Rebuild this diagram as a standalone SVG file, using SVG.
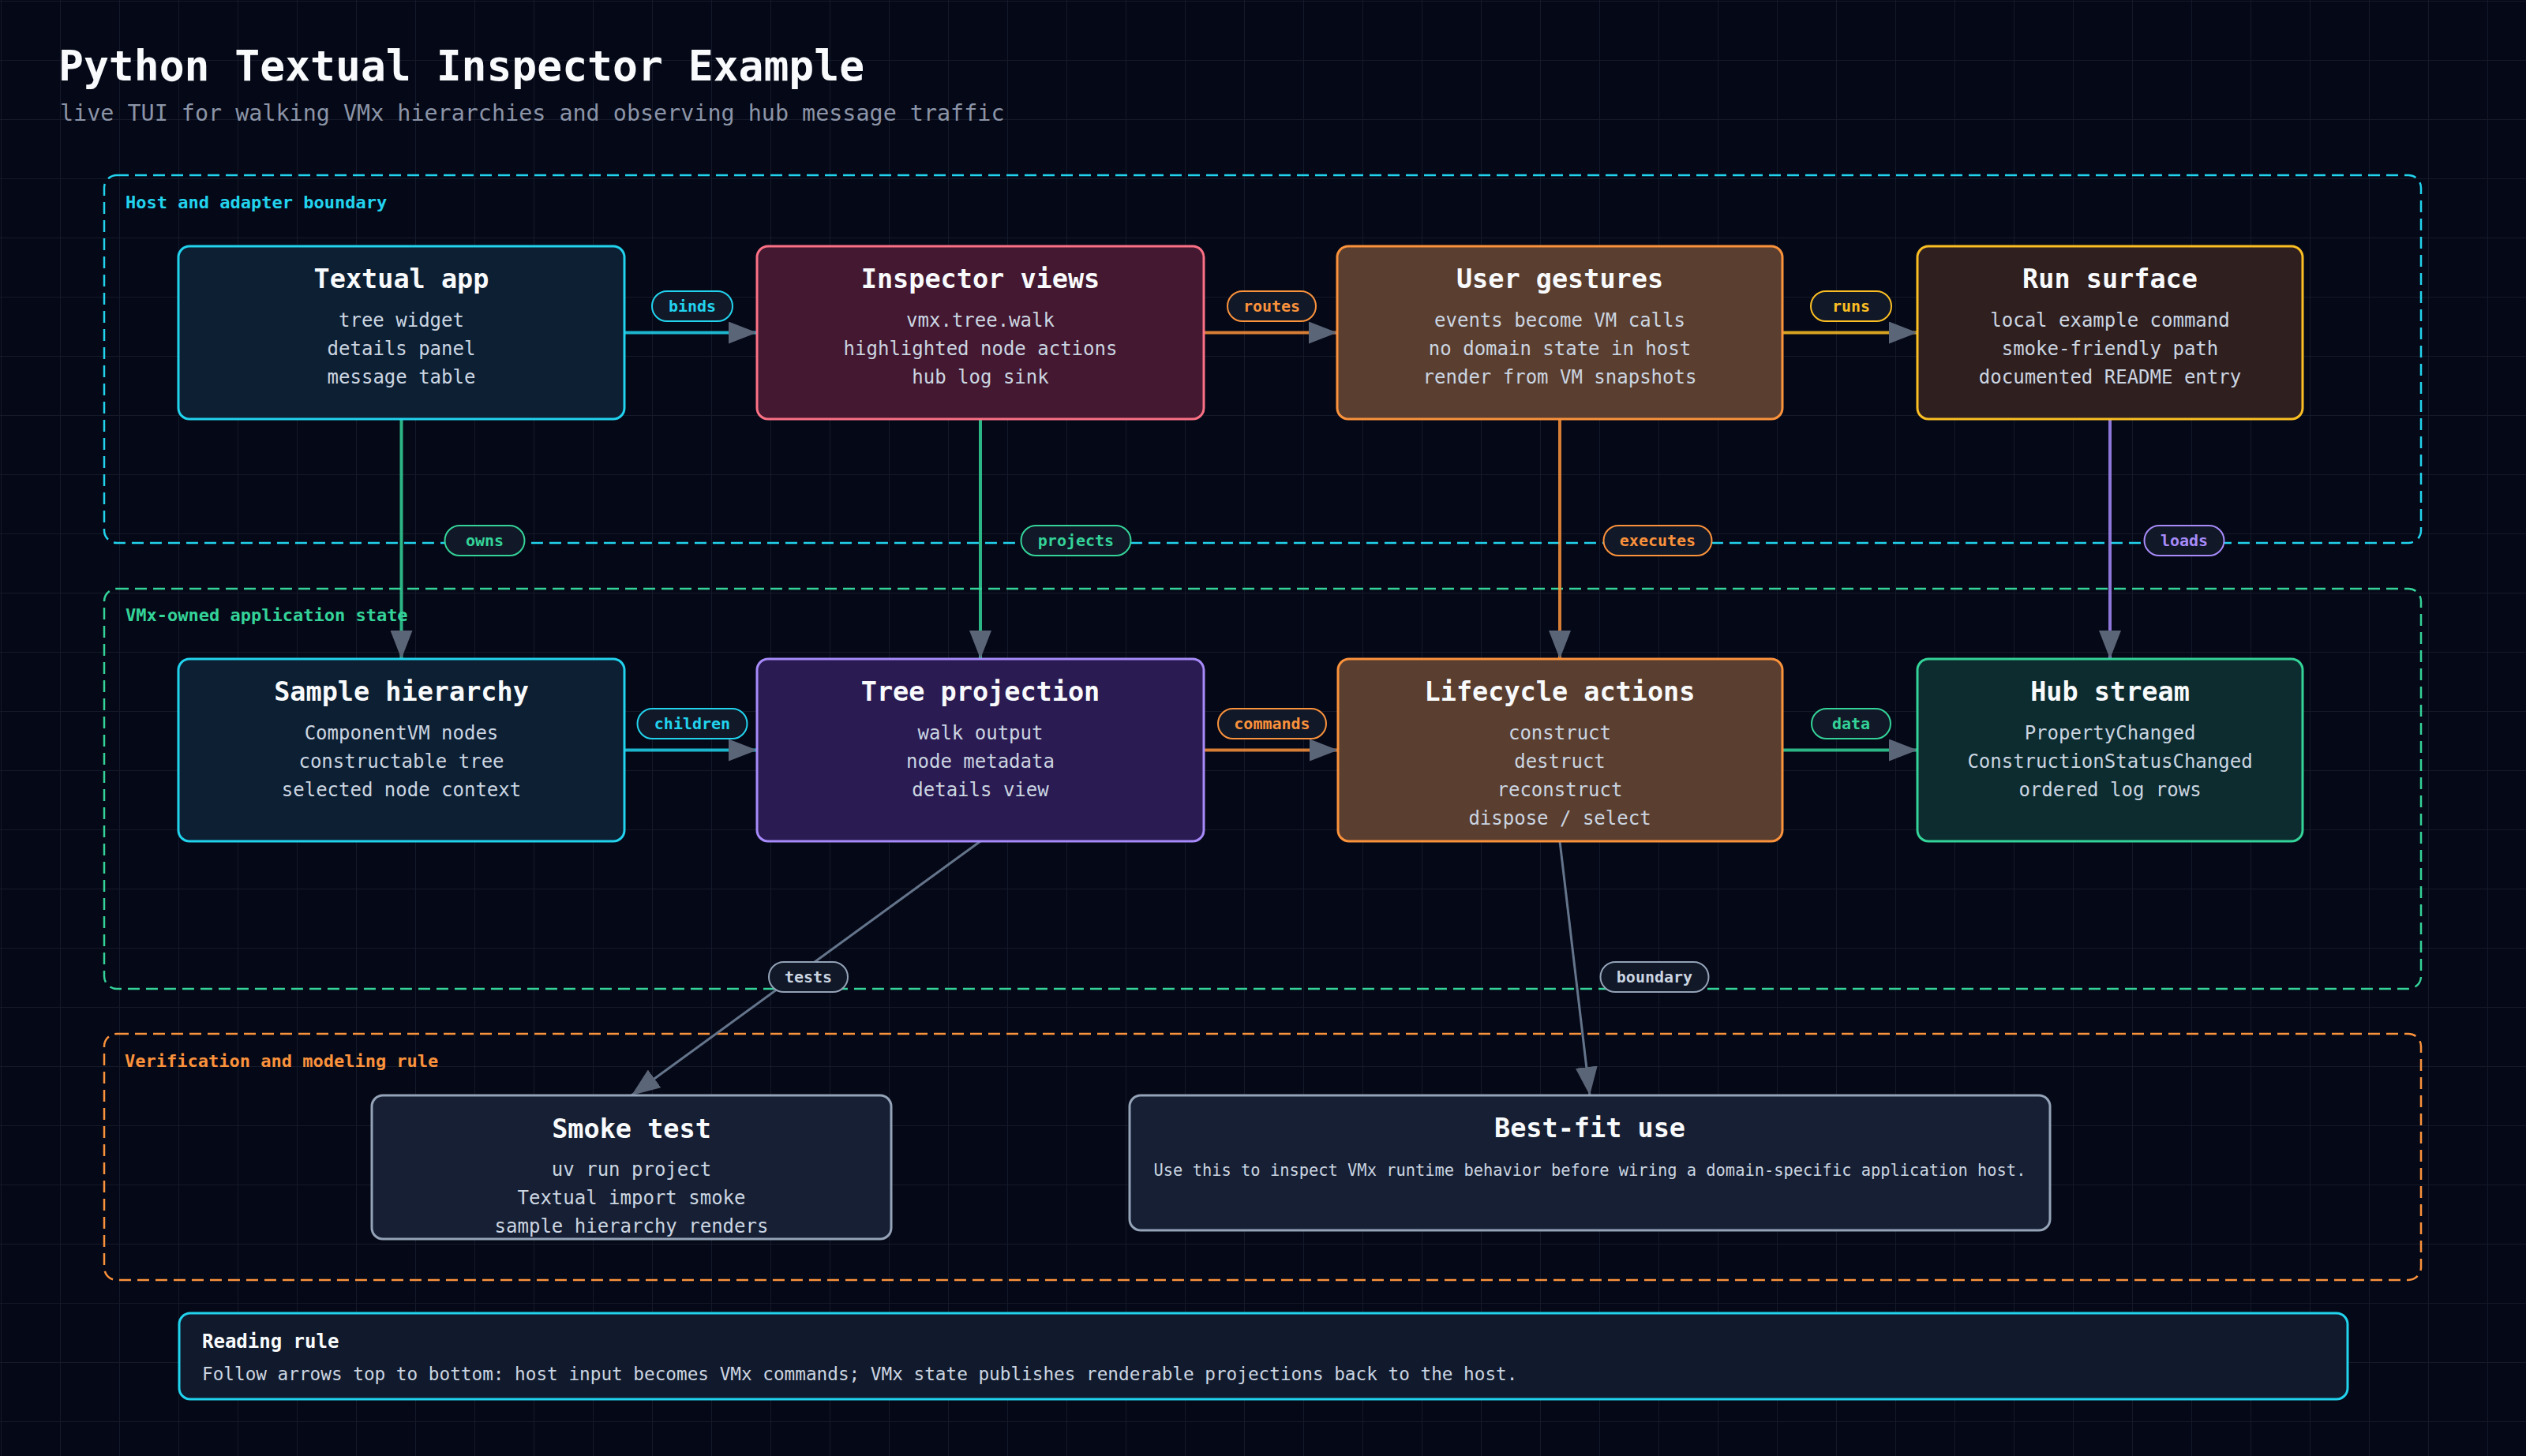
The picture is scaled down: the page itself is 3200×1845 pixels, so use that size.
<svg xmlns="http://www.w3.org/2000/svg" width="3200" height="1845" viewBox="0 0 3200 1845">
<defs>
<pattern id="grid" x="1" y="1" width="75" height="75" patternUnits="userSpaceOnUse"><path d="M75 0 L0 0 0 75" fill="none" stroke="#141a2a" stroke-width="2"/></pattern>
<marker id="arr" markerUnits="userSpaceOnUse" markerWidth="36" markerHeight="28" refX="36" refY="14" orient="auto"><path d="M0,0 L36,14 L0,28 Z" fill="#5b6578"/></marker>
<style>
text{font-family:"DejaVu Sans Mono","Liberation Mono",monospace}
.grp{fill:none;stroke-width:2.5;stroke-dasharray:15 8}
.glabel{font-weight:bold;font-size:22px}
.nd{stroke-width:3}
.title{font-weight:bold;font-size:33.5px;fill:#f8fafc;text-anchor:middle}
.body{font-size:24px;fill:#cbd5e1;text-anchor:middle}
.edge{fill:none;stroke-width:4;stroke-opacity:0.85;marker-end:url(#arr)}
.diag{fill:none;stroke-width:3;stroke:#64748b;marker-end:url(#arr)}
.pill{fill:#111827;stroke-width:2}
.pt{font-weight:bold;font-size:20px;text-anchor:middle}
</style>
</defs>
<rect width="3200" height="1845" fill="#050816"/>
<rect width="3200" height="1845" fill="url(#grid)"/>

<text x="74" y="102" font-weight="bold" font-size="53" fill="#f8fafc">Python Textual Inspector Example</text>
<text x="76" y="153" font-size="28.4" fill="#8b94a7">live TUI for walking VMx hierarchies and observing hub message traffic</text>

<g id="group-host">
<rect class="grp" x="132" y="222" width="2935" height="466" rx="16" stroke="#22d3ee"/>
<text class="glabel" x="159" y="264" fill="#22d3ee">Host and adapter boundary</text>
</g>
<g id="group-vmx">
<rect class="grp" x="132" y="746" width="2935" height="507" rx="16" stroke="#34d399"/>
<text class="glabel" x="159" y="787" fill="#34d399">VMx-owned application state</text>
</g>
<g id="group-verify">
<rect class="grp" x="132" y="1310" width="2935" height="312" rx="16" stroke="#fb923c"/>
<text class="glabel" x="158" y="1352" fill="#fb923c">Verification and modeling rule</text>
</g>

<g id="connectors">
<path class="edge" d="M791 421.5 H959" stroke="#22d3ee"/>
<path class="edge" d="M1525 421.5 H1694" stroke="#fb923c"/>
<path class="edge" d="M2258 421.5 H2429" stroke="#fbbf24"/>
<path class="edge" d="M508.5 531 V835" stroke="#34d399"/>
<path class="edge" d="M1242 531 V835" stroke="#34d399"/>
<path class="edge" d="M1976 531 V835" stroke="#fb923c"/>
<path class="edge" d="M2673 531 V835" stroke="#a78bfa"/>
<path class="edge" d="M791 950.5 H959" stroke="#22d3ee"/>
<path class="edge" d="M1525 950.5 H1695" stroke="#fb923c"/>
<path class="edge" d="M2258 950.5 H2429" stroke="#34d399"/>
<path class="diag" d="M1242 1066 L800 1388"/>
<path class="diag" d="M1976 1066 L2014 1388"/>

<rect class="pill" x="826" y="369" width="102" height="38" rx="19" stroke="#22d3ee"/>
<text class="pt" x="877" y="395" fill="#22d3ee">binds</text>
<rect class="pill" x="1555" y="369" width="112" height="38" rx="19" stroke="#fb923c"/>
<text class="pt" x="1611" y="395" fill="#fb923c">routes</text>
<rect class="pill" x="2294" y="369" width="102" height="38" rx="19" stroke="#fbbf24"/>
<text class="pt" x="2345" y="395" fill="#fbbf24">runs</text>

<rect class="pill" x="563.5" y="666" width="101" height="38" rx="19" stroke="#34d399"/>
<text class="pt" x="614" y="692" fill="#34d399">owns</text>
<rect class="pill" x="1293.5" y="666" width="139" height="38" rx="19" stroke="#34d399"/>
<text class="pt" x="1363" y="692" fill="#34d399">projects</text>
<rect class="pill" x="2031.5" y="666" width="137" height="38" rx="19" stroke="#fb923c"/>
<text class="pt" x="2100" y="692" fill="#fb923c">executes</text>
<rect class="pill" x="2716.5" y="666" width="101" height="38" rx="19" stroke="#a78bfa"/>
<text class="pt" x="2767" y="692" fill="#a78bfa">loads</text>

<rect class="pill" x="807.5" y="898" width="139" height="38" rx="19" stroke="#22d3ee"/>
<text class="pt" x="877" y="924" fill="#22d3ee">children</text>
<rect class="pill" x="1543" y="898" width="137" height="38" rx="19" stroke="#fb923c"/>
<text class="pt" x="1611.5" y="924" fill="#fb923c">commands</text>
<rect class="pill" x="2295" y="898" width="100" height="38" rx="19" stroke="#34d399"/>
<text class="pt" x="2345" y="924" fill="#34d399">data</text>

<rect class="pill" x="974" y="1219" width="100" height="38" rx="19" stroke="#94a3b8"/>
<text class="pt" x="1024" y="1245" fill="#cbd5e1">tests</text>
<rect class="pill" x="2027.5" y="1219" width="137" height="38" rx="19" stroke="#94a3b8"/>
<text class="pt" x="2096" y="1245" fill="#cbd5e1">boundary</text>
</g>

<g id="node-textual-app">
<rect class="nd" x="226" y="312" width="565" height="219" rx="14" fill="#0c1f33" stroke="#22d3ee"/>
<text class="title" x="508.5" y="365">Textual app</text>
<text class="body" x="508.5" y="414">tree widget</text>
<text class="body" x="508.5" y="450">details panel</text>
<text class="body" x="508.5" y="486">message table</text>
</g>
<g id="node-inspector-views">
<rect class="nd" x="959" y="312" width="566" height="219" rx="14" fill="#431830" stroke="#fb7185"/>
<text class="title" x="1242" y="365">Inspector views</text>
<text class="body" x="1242" y="414">vmx.tree.walk</text>
<text class="body" x="1242" y="450">highlighted node actions</text>
<text class="body" x="1242" y="486">hub log sink</text>
</g>
<g id="node-user-gestures">
<rect class="nd" x="1694" y="312" width="564" height="219" rx="14" fill="#5a3e2f" stroke="#fb923c"/>
<text class="title" x="1976" y="365">User gestures</text>
<text class="body" x="1976" y="414">events become VM calls</text>
<text class="body" x="1976" y="450">no domain state in host</text>
<text class="body" x="1976" y="486">render from VM snapshots</text>
</g>
<g id="node-run-surface">
<rect class="nd" x="2429" y="312" width="488" height="219" rx="14" fill="#2f1f1f" stroke="#fbbf24"/>
<text class="title" x="2673" y="365">Run surface</text>
<text class="body" x="2673" y="414">local example command</text>
<text class="body" x="2673" y="450">smoke-friendly path</text>
<text class="body" x="2673" y="486">documented README entry</text>
</g>

<g id="node-sample-hierarchy">
<rect class="nd" x="226" y="835" width="565" height="231" rx="14" fill="#0c1f33" stroke="#22d3ee"/>
<text class="title" x="508.5" y="888">Sample hierarchy</text>
<text class="body" x="508.5" y="937">ComponentVM nodes</text>
<text class="body" x="508.5" y="973">constructable tree</text>
<text class="body" x="508.5" y="1009">selected node context</text>
</g>
<g id="node-tree-projection">
<rect class="nd" x="959" y="835" width="566" height="231" rx="14" fill="#2a1b52" stroke="#a78bfa"/>
<text class="title" x="1242" y="888">Tree projection</text>
<text class="body" x="1242" y="937">walk output</text>
<text class="body" x="1242" y="973">node metadata</text>
<text class="body" x="1242" y="1009">details view</text>
</g>
<g id="node-lifecycle-actions">
<rect class="nd" x="1695" y="835" width="563" height="231" rx="14" fill="#5a3e2f" stroke="#fb923c"/>
<text class="title" x="1976" y="888">Lifecycle actions</text>
<text class="body" x="1976" y="937">construct</text>
<text class="body" x="1976" y="973">destruct</text>
<text class="body" x="1976" y="1009">reconstruct</text>
<text class="body" x="1976" y="1045">dispose / select</text>
</g>
<g id="node-hub-stream">
<rect class="nd" x="2429" y="835" width="488" height="231" rx="14" fill="#0c2c2f" stroke="#34d399"/>
<text class="title" x="2673" y="888">Hub stream</text>
<text class="body" x="2673" y="937">PropertyChanged</text>
<text class="body" x="2673" y="973">ConstructionStatusChanged</text>
<text class="body" x="2673" y="1009">ordered log rows</text>
</g>

<g id="node-smoke-test">
<rect class="nd" x="471" y="1388" width="658" height="182" rx="14" fill="#161f33" stroke="#94a3b8"/>
<text class="title" x="800" y="1442">Smoke test</text>
<text class="body" x="800" y="1490">uv run project</text>
<text class="body" x="800" y="1526">Textual import smoke</text>
<text class="body" x="800" y="1562">sample hierarchy renders</text>
</g>
<g id="node-best-fit-use">
<rect class="nd" x="1431" y="1388" width="1166" height="171" rx="14" fill="#161f33" stroke="#94a3b8"/>
<text class="title" x="2014" y="1441">Best-fit use</text>
<text class="body" x="2014" y="1490" style="font-size:20.4px">Use this to inspect VMx runtime behavior before wiring a domain-specific application host.</text>
</g>

<g id="node-reading-rule">
<rect x="227" y="1664" width="2747" height="109" rx="14" fill="#111a2c" stroke="#22d3ee" stroke-width="3"/>
<text x="256" y="1708" font-weight="bold" font-size="24" fill="#f8fafc">Reading rule</text>
<text x="256" y="1749" font-size="22.7" fill="#cbd5e1">Follow arrows top to bottom: host input becomes VMx commands; VMx state publishes renderable projections back to the host.</text>
</g>
</svg>
